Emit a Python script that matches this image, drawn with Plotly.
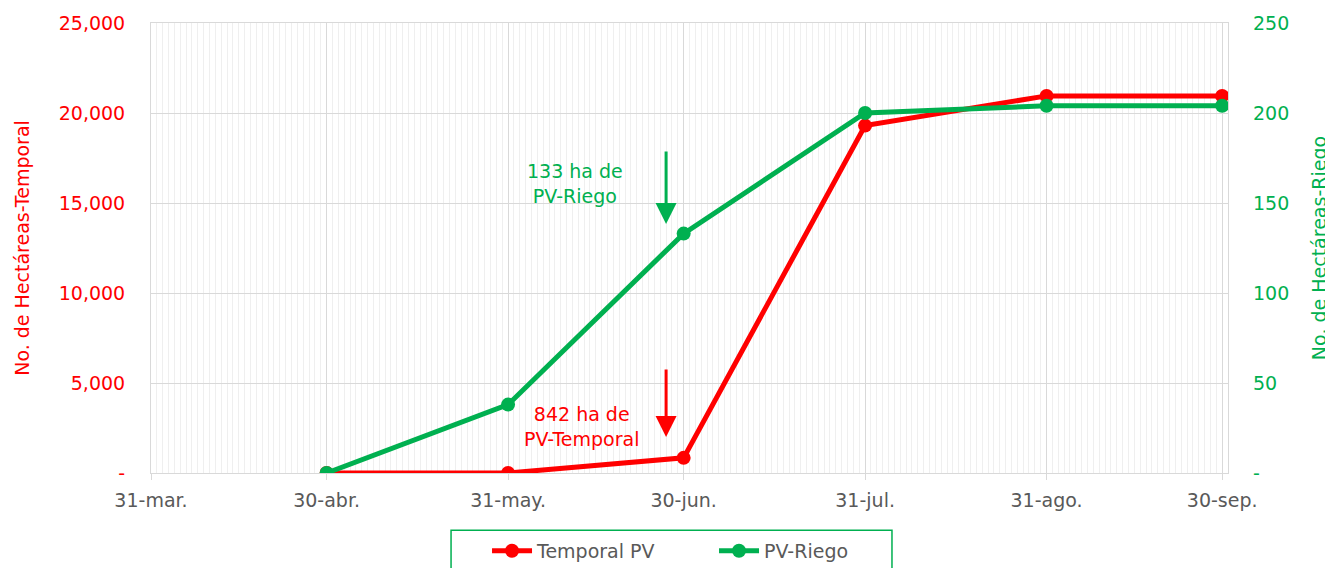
import plotly.graph_objects as go

dates = ["2023-04-30", "2023-05-31", "2023-06-30", "2023-07-31", "2023-08-31", "2023-09-30"]
temporal = [0, 0, 842, 19300, 20950, 20950]
riego = [0, 38, 133, 200, 204, 204]

x_tickvals = ["2023-03-31", "2023-04-30", "2023-05-31", "2023-06-30", "2023-07-31", "2023-08-31", "2023-09-30"]
x_ticktext = ["31-mar.", "30-abr.", "31-may.", "30-jun.", "31-jul.", "31-ago.", "30-sep."]
y1_tickvals = [0, 5000, 10000, 15000, 20000, 25000]
y1_ticktext = ["-", "5,000", "10,000", "15,000", "20,000", "25,000"]
y2_tickvals = [0, 50, 100, 150, 200, 250]
y2_ticktext = ["-", "50", "100", "150", "200", "250"]

RED = "#ff0000"
GREEN = "#00b050"
GRAY = "#595959"
FONT = "DejaVu Sans"
FS = 19

fig = go.Figure()
fig.add_trace(go.Scatter(x=dates, y=temporal, name="Temporal PV", mode="lines+markers",
                         line=dict(color=RED, width=5), marker=dict(color=RED, size=14)))
fig.add_trace(go.Scatter(x=dates, y=riego, name="PV-Riego", mode="lines+markers", yaxis="y2",
                         line=dict(color=GREEN, width=5), marker=dict(color=GREEN, size=14)))

fig.update_layout(
    width=1325, height=560,
    margin=dict(l=143, r=105, t=15, b=95, autoexpand=False),
    plot_bgcolor="white", paper_bgcolor="white",
    font=dict(family=FONT, size=FS, color=GRAY),
    xaxis=dict(
        range=["2023-03-31", "2023-10-01"], tickvals=x_tickvals, ticktext=x_ticktext,
        showgrid=True, gridcolor="#d9d9d9", gridwidth=1,
        minor=dict(dtick=86400000, tick0="2023-03-31", showgrid=True, gridcolor="#efefef", gridwidth=1),
        showline=True, linecolor="#d9d9d9", linewidth=1, mirror=True,
        ticks="outside", ticklen=6, tickcolor="#d9d9d9", ticklabelstandoff=4,
        tickfont=dict(size=FS, color=GRAY), zeroline=False, automargin=False,
    ),
    yaxis=dict(
        range=[0, 25000], tickvals=y1_tickvals, ticktext=y1_ticktext,
        showgrid=True, gridcolor="#d9d9d9", gridwidth=1,
        showline=True, linecolor="#d9d9d9", linewidth=1, mirror=True,
        tickfont=dict(size=FS, color=RED), ticklabelstandoff=21,
        title=dict(text="No. de Hectáreas-Temporal", font=dict(size=FS, color=RED), standoff=24),
        zeroline=False, automargin=False,
    ),
    yaxis2=dict(
        range=[0, 250], tickvals=y2_tickvals, ticktext=y2_ticktext,
        overlaying="y", side="right", showgrid=False, zeroline=False,
        tickfont=dict(size=FS, color=GREEN), ticklabelstandoff=24,
        title=dict(text="No. de Hectáreas-Riego", font=dict(size=FS, color=GREEN), standoff=24),
        automargin=False,
    ),
    legend=dict(orientation="h", x=0.312, xanchor="left", y=-0.173, yanchor="middle",
                font=dict(size=FS, color=GRAY), bgcolor="rgba(0,0,0,0)",
                entrywidth=172, entrywidthmode="pixels", itemwidth=40),
    showlegend=True,
)

fig.add_shape(type="rect", xref="paper", yref="paper", x0=0.2786, x1=0.688, y0=-0.127, y1=-0.25,
              line=dict(color=GREEN, width=1.5), fillcolor="rgba(0,0,0,0)", layer="above")

fig.add_annotation(x="2023-06-11T12:00", y=16100, xref="x", yref="y", text="133 ha de<br>PV-Riego",
                   showarrow=False, font=dict(size=FS, color=GREEN))
fig.add_annotation(x="2023-06-12T12:00", y=2600, xref="x", yref="y", text="842 ha de<br>PV-Temporal",
                   showarrow=False, font=dict(size=FS, color=RED))
fig.add_annotation(x="2023-06-27", y=13830, xref="x", yref="y", text="", showarrow=True,
                   ax=0, ay=-74, arrowhead=2, arrowsize=1.4, arrowwidth=3, arrowcolor=GREEN)
fig.add_annotation(x="2023-06-27", y=2000, xref="x", yref="y", text="", showarrow=True,
                   ax=0, ay=-69, arrowhead=2, arrowsize=1.4, arrowwidth=3, arrowcolor=RED)

fig.write_html("out.html")
